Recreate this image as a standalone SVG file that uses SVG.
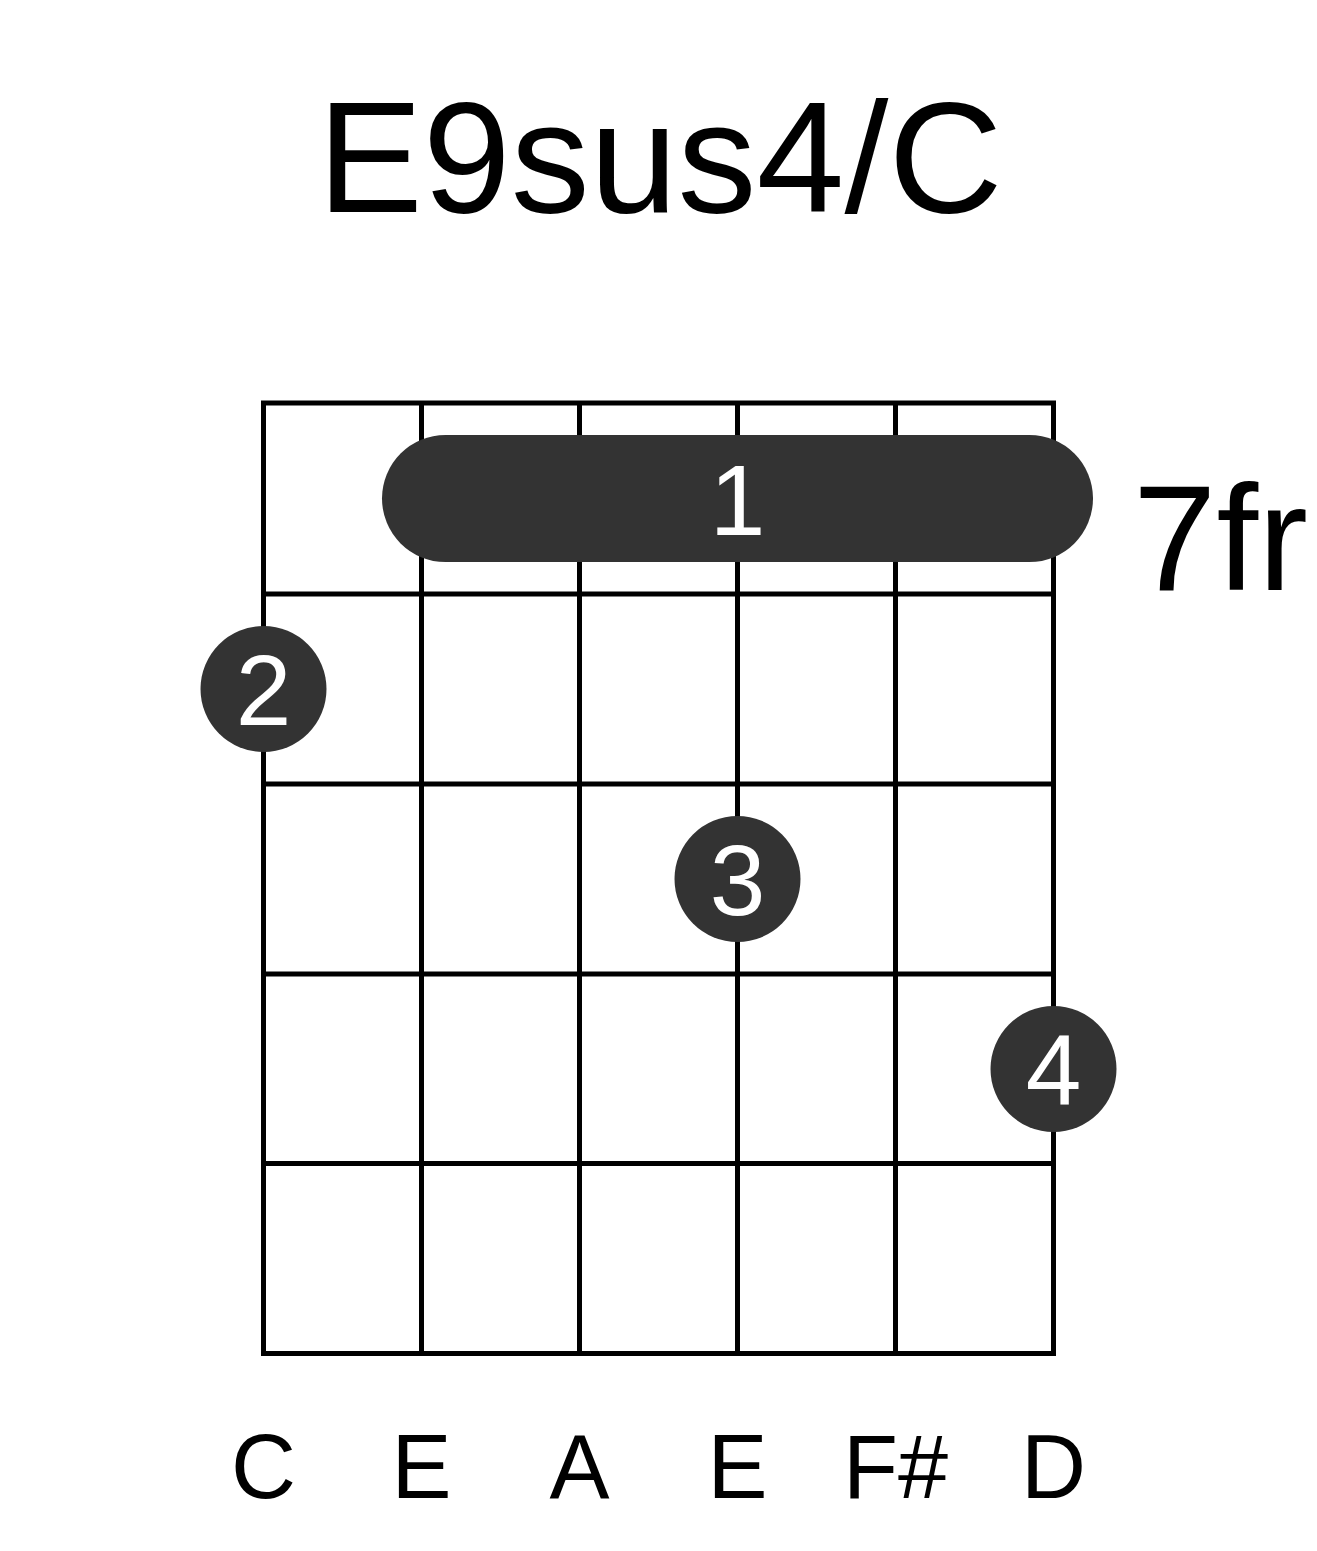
<svg xmlns="http://www.w3.org/2000/svg" width="1317" height="1551" viewBox="0 0 1317 1551">
<style>
.t{font-family:"Liberation Sans",Arial,sans-serif;fill:#000}
.g{stroke:#000;stroke-width:5;fill:none}
.dot{fill:#333333}
.n{font-family:"Liberation Sans",Arial,sans-serif;fill:#fff;font-size:100px;text-anchor:middle}
.lab{font-family:"Liberation Sans",Arial,sans-serif;fill:#000;font-size:90px;text-anchor:middle}
</style>
<rect width="1317" height="1551" fill="#fff"/>
<text id="title" class="t" x="660" y="212" font-size="158" text-anchor="middle">E9sus4/C</text>
<g id="grid" class="g">
<rect x="263.5" y="403" width="790" height="950.5"/>
<line x1="421.5" y1="403" x2="421.5" y2="1353.5"/>
<line x1="579.5" y1="403" x2="579.5" y2="1353.5"/>
<line x1="737.5" y1="403" x2="737.5" y2="1353.5"/>
<line x1="895.5" y1="403" x2="895.5" y2="1353.5"/>
<line x1="263.5" y1="594" x2="1053.5" y2="594"/>
<line x1="263.5" y1="784" x2="1053.5" y2="784"/>
<line x1="263.5" y1="974" x2="1053.5" y2="974"/>
<line x1="263.5" y1="1163.5" x2="1053.5" y2="1163.5"/>
</g>
<g id="barre">
<rect class="dot" x="382" y="435" width="711" height="127" rx="63.5"/>
<text class="n" x="737.5" y="535">1</text>
</g>
<g id="finger2">
<circle class="dot" cx="263.5" cy="689" r="63"/>
<text class="n" x="263.5" y="725">2</text>
</g>
<g id="finger3">
<circle class="dot" cx="737.5" cy="879" r="63"/>
<text class="n" x="737.5" y="915">3</text>
</g>
<g id="finger4">
<circle class="dot" cx="1053.5" cy="1069" r="63"/>
<text class="n" x="1053.5" y="1105">4</text>
</g>
<text id="fret" class="t" x="1133" y="590" font-size="150">7fr</text>
<g id="labels">
<text class="lab" x="263.5" y="1498">C</text>
<text class="lab" x="421.5" y="1498">E</text>
<text class="lab" x="579.5" y="1498">A</text>
<text class="lab" x="737.5" y="1498">E</text>
<text class="lab" x="895.5" y="1498">F#</text>
<text class="lab" x="1053.5" y="1498">D</text>
</g>
</svg>
